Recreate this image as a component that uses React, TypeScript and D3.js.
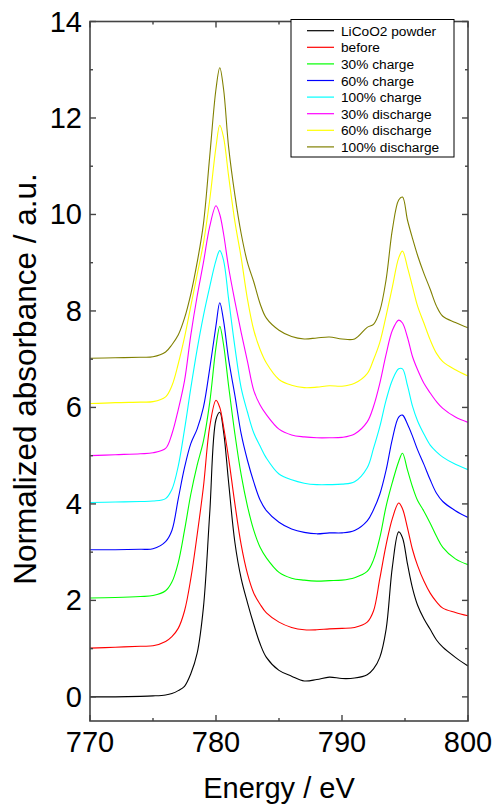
import React from "react";
import * as d3 from "d3";

const energies = [770, 772, 774, 775, 776, 776.5, 777, 777.5, 778, 778.5, 779, 779.5, 780, 780.3, 780.6, 781, 781.5, 782, 782.5, 783, 783.5, 784, 785, 786, 787, 788, 789, 790, 791, 792, 792.5, 793, 793.5, 794, 794.5, 794.8, 795.2, 795.6, 796, 796.5, 797, 797.5, 798, 799, 800];

const seriesNames = ["LiCoO2 powder", "before", "30% charge", "60% charge", "100% charge", "30% discharge", "60% discharge", "100% discharge"];
const seriesColors = ["#000000", "#ff0000", "#00ff00", "#0000ff", "#00ffff", "#ff00ff", "#ffff00", "#808000"];

const powder = [0.0, 0.0, 0.01, 0.02, 0.04, 0.07, 0.13, 0.22, 0.48, 0.9, 1.85, 3.8, 5.75, 5.9, 5.5, 4.45, 3.2, 2.45, 1.95, 1.5, 1.1, 0.82, 0.55, 0.43, 0.33, 0.36, 0.41, 0.38, 0.39, 0.46, 0.58, 0.82, 1.4, 2.7, 3.42, 3.3, 2.75, 2.25, 1.9, 1.62, 1.4, 1.18, 1.03, 0.82, 0.64];
const before = [1.01, 1.03, 1.05, 1.06, 1.15, 1.25, 1.42, 1.78, 2.45, 3.35, 4.35, 5.6, 6.15, 6.0, 5.6, 4.95, 4.0, 3.15, 2.55, 2.15, 1.92, 1.74, 1.55, 1.44, 1.39, 1.39, 1.41, 1.42, 1.44, 1.55, 1.78, 2.45, 3.15, 3.7, 4.02, 3.9, 3.5, 3.05, 2.72, 2.4, 2.15, 1.97, 1.84, 1.75, 1.68];
const charge30 = [2.05, 2.06, 2.08, 2.1, 2.2, 2.38, 2.78, 3.45, 4.2, 4.8, 5.3, 6.1, 7.25, 7.68, 7.3, 6.45, 5.45, 4.6, 3.95, 3.45, 3.1, 2.88, 2.58, 2.46, 2.42, 2.4, 2.41, 2.42, 2.47, 2.6, 2.84, 3.3, 3.95, 4.45, 4.88, 5.05, 4.7, 4.35, 4.07, 3.85, 3.6, 3.33, 3.1, 2.86, 2.74];
const charge60 = [3.05, 3.05, 3.06, 3.07, 3.22, 3.45, 4.1, 4.75, 5.25, 5.55, 6.0, 6.8, 7.7, 8.17, 7.8, 7.0, 6.25, 5.45, 4.9, 4.45, 4.08, 3.86, 3.62, 3.48, 3.41, 3.38, 3.4, 3.4, 3.45, 3.65, 3.88, 4.2, 4.7, 5.35, 5.8, 5.84, 5.65, 5.4, 5.12, 4.82, 4.5, 4.22, 4.05, 3.86, 3.72];
const charge100 = [4.03, 4.04, 4.05, 4.06, 4.11, 4.3, 4.78, 5.54, 6.4, 7.2, 7.9, 8.5, 9.05, 9.25, 9.05, 8.25, 7.25, 6.4, 5.9, 5.47, 5.2, 4.95, 4.62, 4.5, 4.43, 4.4, 4.4, 4.41, 4.46, 4.75, 5.15, 5.6, 6.15, 6.57, 6.8, 6.8, 6.45, 6.02, 5.72, 5.45, 5.22, 5.08, 4.97, 4.82, 4.71];
const discharge30 = [5.0, 5.02, 5.04, 5.06, 5.15, 5.45, 5.95, 6.55, 7.5, 8.3, 9.0, 9.75, 10.18, 10.0, 9.6, 8.9, 8.2, 7.55, 6.95, 6.35, 6.05, 5.85, 5.55, 5.43, 5.39, 5.37, 5.37, 5.38, 5.45, 5.7, 6.02, 6.5, 7.1, 7.6, 7.81, 7.75, 7.45, 7.05, 6.78, 6.5, 6.3, 6.12, 5.98, 5.8, 5.69];
const discharge60 = [6.08, 6.1, 6.11, 6.12, 6.22, 6.45, 6.9, 7.45, 8.1, 8.75, 9.4, 10.3, 11.4, 11.85, 11.6, 10.8, 9.85, 9.1, 8.24, 7.6, 7.2, 6.92, 6.58, 6.46, 6.41, 6.42, 6.45, 6.44, 6.5, 6.7, 6.99, 7.35, 7.9, 8.5, 9.1, 9.24, 8.9, 8.5, 8.1, 7.75, 7.4, 7.12, 6.95, 6.78, 6.65];
const discharge100 = [7.02, 7.03, 7.04, 7.05, 7.15, 7.3, 7.5, 7.85, 8.35, 9.0, 9.8, 11.2, 12.6, 13.04, 12.6, 11.4, 10.4, 9.6, 9.0, 8.6, 8.15, 7.85, 7.6, 7.47, 7.42, 7.44, 7.46, 7.42, 7.42, 7.66, 7.72, 8.0, 8.65, 9.69, 10.3, 10.36, 9.88, 9.5, 9.15, 8.78, 8.45, 8.1, 7.89, 7.76, 7.65];

const seriesValues = [powder, before, charge30, charge60, charge100, discharge30, discharge60, discharge100];

const xMajorTicks = [770, 780, 790, 800];
const xMinorTicks = [775, 785, 795];
const yMajorTicks = [0, 2, 4, 6, 8, 10, 12, 14];
const yMinorTicks = [1, 3, 5, 7, 9, 11, 13];

const W = 496;
const H = 808;
const left = 90;
const right = 468;
const top = 21.5;
const bottom = 721;

export default function App() {
  const x = d3.scaleLinear().domain([770, 800]).range([left, right]);
  const y = d3.scaleLinear().domain([-0.5, 14]).range([bottom, top]);
  const font = "Arial, 'Liberation Sans', Helvetica, sans-serif";
  const axisColor = "#444";

  const line = d3
    .line<[number, number]>()
    .x((d) => x(d[0]))
    .y((d) => y(d[1]))
    .curve(d3.curveCatmullRom.alpha(0.5));

  const majorLen = 6;
  const minorLen = 3;

  return (
    <svg width={W} height={H} style={{ position: "absolute", left: 0, top: 0 }} fontFamily={font}>
      <rect x={0} y={0} width={W} height={H} fill="#fff" />
      <defs>
        <clipPath id="plotclip">
          <rect x={left} y={top} width={right - left} height={bottom - top} />
        </clipPath>
      </defs>
      <g clipPath="url(#plotclip)">
        {seriesValues.map((vals, i) => (
          <path
            key={i}
            d={line(energies.map((e, j) => [e, vals[j]] as [number, number])) || ""}
            fill="none"
            stroke={seriesColors[i]}
            strokeWidth={1.1}
          />
        ))}
      </g>
      <rect x={left} y={top} width={right - left} height={bottom - top} fill="none" stroke={axisColor} strokeWidth={1.6} />
      {xMajorTicks.map((t) => (
        <g key={"xm" + t}>
          <line x1={x(t)} x2={x(t)} y1={bottom} y2={bottom - majorLen} stroke={axisColor} strokeWidth={1.4} />
          <line x1={x(t)} x2={x(t)} y1={top} y2={top + majorLen} stroke={axisColor} strokeWidth={1.4} />
          <text x={x(t)} y={752} fontSize={29} textAnchor="middle" fill="#000">
            {t}
          </text>
        </g>
      ))}
      {xMinorTicks.map((t) => (
        <g key={"xn" + t}>
          <line x1={x(t)} x2={x(t)} y1={bottom} y2={bottom - minorLen} stroke={axisColor} strokeWidth={1.4} />
          <line x1={x(t)} x2={x(t)} y1={top} y2={top + minorLen} stroke={axisColor} strokeWidth={1.4} />
        </g>
      ))}
      {yMajorTicks.map((t) => (
        <g key={"ym" + t}>
          <line x1={left} x2={left + majorLen} y1={y(t)} y2={y(t)} stroke={axisColor} strokeWidth={1.4} />
          <line x1={right} x2={right - majorLen} y1={y(t)} y2={y(t)} stroke={axisColor} strokeWidth={1.4} />
          <text x={82} y={y(t) + 10} fontSize={29} textAnchor="end" fill="#000">
            {t}
          </text>
        </g>
      ))}
      {yMinorTicks.map((t) => (
        <g key={"yn" + t}>
          <line x1={left} x2={left + minorLen} y1={y(t)} y2={y(t)} stroke={axisColor} strokeWidth={1.4} />
          <line x1={right} x2={right - minorLen} y1={y(t)} y2={y(t)} stroke={axisColor} strokeWidth={1.4} />
        </g>
      ))}
      <text x={(left + right) / 2} y={798} fontSize={29} textAnchor="middle" fill="#000">
        Energy / eV
      </text>
      <text transform={`translate(36, 379) rotate(-90)`} fontSize={31.5} textAnchor="middle" fill="#000">
        Normalized absorbance / a.u.
      </text>
      <rect x={291} y={19.5} width={163} height={137.5} fill="#fff" stroke="#000" strokeWidth={1} />
      {seriesNames.map((name, i) => {
        const cy = 30.7 + i * 16.6;
        return (
          <g key={name}>
            <line x1={307} x2={334} y1={cy} y2={cy} stroke={seriesColors[i]} strokeWidth={1.2} />
            <text x={341} y={cy + 5} fontSize={13.7} fill="#000">
              {name}
            </text>
          </g>
        );
      })}
    </svg>
  );
}
